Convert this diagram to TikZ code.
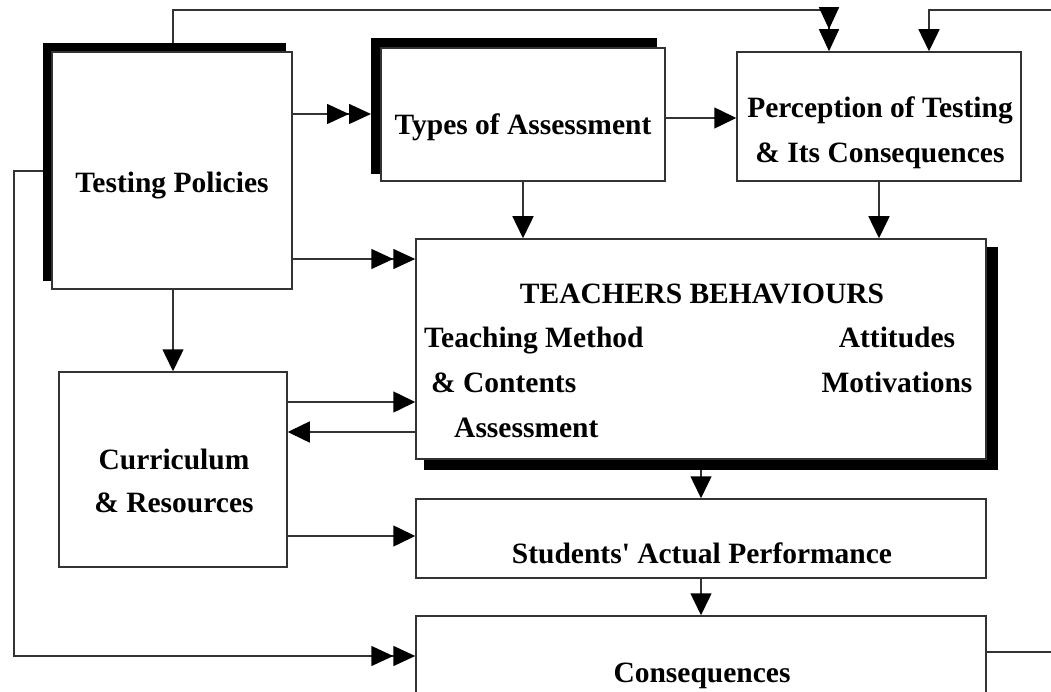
\documentclass[tikz,border=0pt]{standalone}
\usepackage{fontspec}
\setmainfont{Liberation Serif}
\usetikzlibrary{arrows.meta}
\begin{document}
\begin{tikzpicture}[x=1pt,y=-1pt,
  box/.style={draw=black!80, line width=1.5pt, fill=white, rectangle, inner sep=0pt},
  lbl/.style={font=\fontsize{29.5}{35}\selectfont\bfseries, anchor=base, inner sep=0pt},
  conn/.style={draw=black!80, line width=1.5pt},
  arr/.style={conn, -{Triangle[length=22pt,width=21pt,color=black]}},
  darr/.style={conn, -{Triangle[length=22pt,width=20pt,color=black]Triangle[length=22pt,width=20pt,color=black]}}]
\useasboundingbox (0,0) rectangle (1051,692);
\clip (0,0) rectangle (1051,692);
% shadows
\fill[black] (43,43) rectangle (286,281);
\fill[black] (371,38) rectangle (657,174);
\fill[black] (424,247) rectangle (998,470);
% boxes
\node[box, minimum width=240pt, minimum height=237pt] (TP) at (172,170.5) {};
\node[box, minimum width=284pt, minimum height=133pt] (TA) at (523,114.5) {};
\node[box, minimum width=284pt, minimum height=129pt] (PT) at (879,116.5) {};
\node[box, minimum width=570pt, minimum height=220pt] (TB) at (701,349) {};
\node[box, minimum width=228pt, minimum height=195pt] (CR) at (173,469.5) {};
\node[box, minimum width=570pt, minimum height=79pt] (SAP) at (701,538.5) {};
\node[box, minimum width=570pt, minimum height=104pt] (CONS) at (701,668) {};
% helper coordinates
\coordinate (TPsh) at (173,43);
\coordinate (TPshW) at (43,171);
\coordinate (TAshW) at (371,114);
\coordinate (TBsh) at (701,470);
\coordinate (edgeT) at (1051,10);
\coordinate (edgeB) at (1051,652);
% connectors
\draw[darr] (TP.east |- TAshW) -- (TAshW);
\draw[arr] (TA.east |- 0,118) -- (PT.west |- 0,118);
\draw[arr] (TA.south) -- (TA.south |- TB.north);
\draw[arr] (PT.south) -- (PT.south |- TB.north);
\draw[darr] (TP.east |- 0,259) -- (TB.west |- 0,259);
\draw[arr] (CR.north |- TP.south) -- (CR.north);
\draw[arr] (CR.east |- 0,402) -- (TB.west |- 0,402);
\draw[arr] (TB.west |- 0,432) -- (CR.east |- 0,432);
\draw[arr] (CR.east |- 0,536) -- (SAP.west |- 0,536);
\draw[arr] (TBsh) -- (TBsh |- SAP.north);
\draw[arr] (SAP.south) -- (CONS.north);
\draw[darr] (TPsh) -- ++(0,-33) -| ([xshift=-50pt]PT.north);
\draw[arr] (edgeT) -| ([xshift=50pt]PT.north);
\draw[conn] (CONS.east |- edgeB) -- (edgeB);
\draw[darr] (TPshW) -- ++(-29,0) |- (CONS.west |- 0,656);
% labels
\node[lbl] (tTP) at (172,193) {Testing Policies};
\node[lbl] (tTA) at (523,135) {Types of Assessment};
\node[lbl] (tPT1) at (880,118) {Perception of Testing};
\node[lbl] (tPT2) at (880,163) {\& Its Consequences};
\node[lbl] (tTB) at (702,304) {TEACHERS BEHAVIOURS};
\node[lbl, anchor=base west] (tTM) at (424,347) {Teaching Method};
\node[lbl, anchor=base west] (tTC) at (431,392) {\& Contents};
\node[lbl, anchor=base west] (tTAs) at (454,437) {Assessment};
\node[lbl] (tAtt) at (897,347) {Attitudes};
\node[lbl] (tMot) at (897,392) {Motivations};
\node[lbl] (tCR1) at (174,469) {Curriculum};
\node[lbl] (tCR2) at (174,512) {\& Resources};
\node[lbl] (tSAP) at (702,563) {Students\textquotesingle\ Actual Performance};
\node[lbl] (tCONS) at (702,682) {Consequences};
\end{tikzpicture}
\end{document}
